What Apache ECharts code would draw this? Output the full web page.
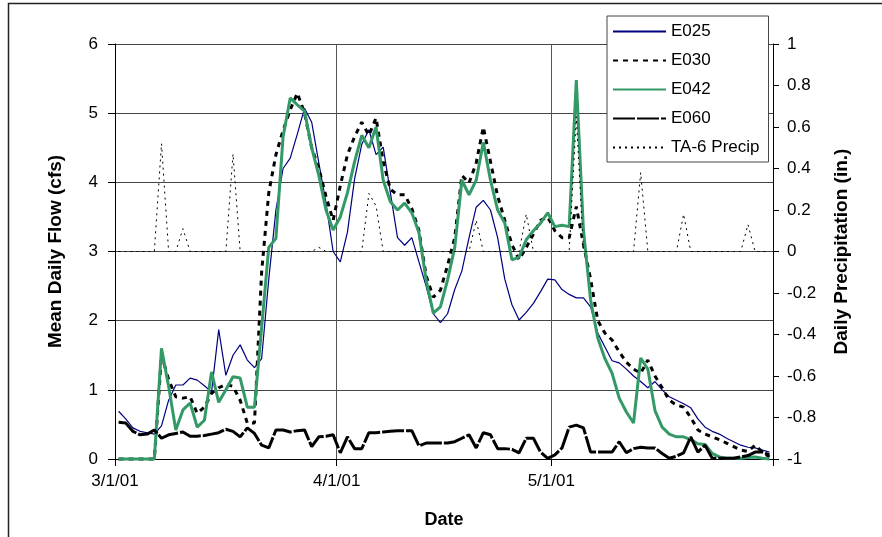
<!DOCTYPE html>
<html><head><meta charset="utf-8">
<script src="https://cdn.jsdelivr.net/npm/echarts@6/dist/echarts.min.js"></script>
<style>html,body{margin:0;padding:0;background:#fff}#c{width:882px;height:537px}</style>
</head><body><div id="c"></div>
<script>
// x axis: days counted from 3/1/01 (daily values, 3/1/01 .. 5/31/01)
const dayCount = 92;
const xTickDays = [0, 31, 61];
const xTickLabels = ['3/1/01', '4/1/01', '5/1/01'];
const seriesNames = ['E025', 'E030', 'E042', 'E060', 'TA-6 Precip'];

const E025 = [0.69,0.58,0.45,0.40,0.38,0.36,0.48,0.85,1.07,1.07,
 1.17,1.14,1.06,0.97,1.87,1.21,1.50,1.65,1.43,1.32,
 1.45,2.60,3.60,4.20,4.35,4.70,5.07,4.87,4.28,3.70,
 3.00,2.85,3.28,4.05,4.55,4.76,4.40,4.51,3.85,3.20,
 3.09,3.20,2.85,2.50,2.10,1.97,2.10,2.45,2.72,3.20,
 3.64,3.74,3.60,3.20,2.60,2.23,2.01,2.12,2.25,2.42,
 2.60,2.59,2.45,2.38,2.33,2.33,2.20,1.82,1.62,1.42,
 1.39,1.30,1.20,1.12,1.03,1.12,1.00,0.90,0.85,0.80,
 0.74,0.58,0.46,0.40,0.36,0.30,0.25,0.20,0.17,0.16,
 0.13,0.10];

const E030 = [0,0,0,0,0,0,1.50,1.15,0.90,0.88,
 0.90,0.66,0.75,0.95,1.03,1.08,1.05,0.85,0.52,0.52,
 2.70,3.85,4.40,4.75,5.05,5.29,5.00,4.50,4.20,3.80,
 3.45,3.95,4.40,4.66,4.87,4.68,4.93,4.30,3.90,3.82,
 3.82,3.62,3.30,2.65,2.34,2.44,2.80,3.20,4.10,3.99,
 4.28,4.80,4.30,3.80,3.45,3.10,2.88,3.06,3.25,3.45,
 3.50,3.30,3.20,3.20,3.65,3.10,2.60,2.00,1.82,1.72,
 1.55,1.40,1.30,1.24,1.43,1.20,1.03,0.85,0.78,0.75,
 0.60,0.42,0.36,0.32,0.28,0.23,0.18,0.13,0.11,0.20,
 0.10,0.03];

const E042 = [0,0,0,0,0,0,1.60,1.05,0.42,0.71,
 0.81,0.46,0.56,1.26,0.82,1.00,1.19,1.17,0.75,0.75,
 1.90,3.06,3.19,4.66,5.22,5.12,5.03,4.50,4.10,3.60,
 3.31,3.50,3.85,4.30,4.68,4.50,4.80,4.03,3.72,3.60,
 3.70,3.56,3.27,2.59,2.11,2.20,2.59,3.06,4.03,3.82,
 4.03,4.58,4.03,3.60,3.41,2.88,2.92,3.17,3.30,3.41,
 3.56,3.36,3.38,3.36,5.48,3.30,2.30,1.75,1.45,1.24,
 0.88,0.68,0.52,1.46,1.30,0.70,0.46,0.36,0.32,0.32,
 0.28,0.22,0.21,0.08,0.03,0.01,0.01,0.01,0.02,0.03,
 0.01,0.00];

const E060 = [0.53,0.52,0.40,0.35,0.36,0.42,0.30,0.35,0.37,0.39,
 0.33,0.33,0.34,0.36,0.38,0.43,0.40,0.32,0.45,0.37,
 0.20,0.16,0.42,0.42,0.39,0.41,0.42,0.18,0.32,0.33,
 0.35,0.09,0.32,0.15,0.15,0.38,0.38,0.39,0.40,0.41,
 0.41,0.41,0.19,0.23,0.23,0.23,0.23,0.25,0.30,0.35,
 0.16,0.38,0.35,0.15,0.15,0.14,0.09,0.30,0.30,0.10,
 0.01,0.06,0.16,0.46,0.49,0.45,0.10,0.10,0.10,0.10,
 0.25,0.09,0.15,0.17,0.16,0.16,0.08,0.01,0.04,0.09,
 0.32,0.10,0.20,0.01,0.01,0.01,0.01,0.03,0.05,0.10,
 0.10,0.06];

const PRECIP = [0,0,0,0,0,0,0.52,0,0,0.11,
 0,0,0,0,0,0,0.47,0,0,0,
 0,0,0,0,0,0,0,0,0.02,0,
 0,0,0,0,0,0.28,0.22,0,0,0,
 0,0,0,0,0,0,0,0,0,0,
 0.15,0,0,0,0,0,0,0.18,0,0,
 0,0,0,0,0.65,0,0,0,0,0,
 0,0,0,0.38,0,0,0,0,0,0.18,
 0,0,0,0,0,0,0,0,0.13,0,
 0,0];

const font = '"Liberation Sans", Arial, sans-serif';
const toXY = arr => arr.map((v, i) => [i + 0.5, v]);

const chart = echarts.init(document.getElementById('c'), null, {renderer: 'canvas'});
chart.setOption({
  animation: false,
  backgroundColor: '#fff',
  graphic: [{type: 'rect', silent: true, shape: {x: 8.5, y: 3.5, width: 900, height: 600},
    style: {fill: 'none', stroke: '#222', lineWidth: 1.5}}],
  grid: {left: 115, right: 109, top: 44, bottom: 78},
  legend: {
    orient: 'vertical', left: 607, top: 16, padding: [7, 9, 6, 5],
    itemWidth: 53, itemHeight: 12, itemGap: 12,
    backgroundColor: '#fff', borderColor: '#444', borderWidth: 1,
    itemStyle: {opacity: 0},
    textStyle: {fontFamily: font, fontSize: 17, color: '#000'},
    data: seriesNames
  },
  xAxis: {
    type: 'value', min: 0, max: dayCount,
    name: 'Date', nameLocation: 'middle', nameGap: 52,
    nameTextStyle: {fontFamily: font, fontWeight: 'bold', fontSize: 18, color: '#000'},
    axisLine: {lineStyle: {color: '#000', width: 1}},
    axisTick: {customValues: xTickDays.concat([dayCount]), length: 7, lineStyle: {color: '#000'}},
    axisLabel: {customValues: xTickDays, formatter: v => xTickLabels[xTickDays.indexOf(v)] || '',
      fontFamily: font, fontSize: 17, color: '#000', margin: 14},
    splitLine: {show: true, lineStyle: {color: '#555', width: 1}}
  },
  yAxis: [{
    type: 'value', min: 0, max: 6, interval: 1,
    name: 'Mean Daily Flow (cfs)', nameLocation: 'middle', nameGap: 50, nameRotate: 90,
    nameTextStyle: {fontFamily: font, fontWeight: 'bold', fontSize: 19, color: '#000'},
    axisLine: {show: true, lineStyle: {color: '#000', width: 1}},
    axisTick: {show: true, length: 7, lineStyle: {color: '#000'}},
    axisLabel: {fontFamily: font, fontSize: 17, color: '#000', margin: 17},
    splitLine: {show: true, lineStyle: {color: '#444', width: 1}}
  }, {
    type: 'value', min: -1, max: 1, interval: 0.2, position: 'right',
    name: 'Daily Precipitation (in.)', nameLocation: 'middle', nameGap: 59, nameRotate: 90,
    nameTextStyle: {fontFamily: font, fontWeight: 'bold', fontSize: 19, color: '#000'},
    axisLine: {show: true, lineStyle: {color: '#000', width: 1}},
    axisTick: {show: true, length: 6, lineStyle: {color: '#000'}},
    axisLabel: {fontFamily: font, fontSize: 17, color: '#000', margin: 14,
      formatter: v => String(Math.round(v * 10) / 10)},
    splitLine: {show: false}
  }],
  series: [
    {name: 'E025', type: 'line', data: toXY(E025), symbol: 'none', clip: false,
      lineStyle: {color: '#000080', width: 1.2}, itemStyle: {color: '#000080'}},
    {name: 'E030', type: 'line', data: toXY(E030), symbol: 'none', clip: false,
      lineStyle: {color: '#000', width: 3, type: [5, 5]}, itemStyle: {color: '#000'}},
    {name: 'E042', type: 'line', data: toXY(E042), symbol: 'none', clip: false,
      lineStyle: {color: '#339966', width: 3}, itemStyle: {color: '#339966'}},
    {name: 'E060', type: 'line', data: toXY(E060), symbol: 'none', clip: false,
      lineStyle: {color: '#000', width: 3, type: [22, 2]}, itemStyle: {color: '#000'}},
    {name: 'TA-6 Precip', type: 'line', yAxisIndex: 1, data: toXY(PRECIP), symbol: 'none', clip: false,
      lineStyle: {color: '#000', width: 1, type: [2, 4]}, itemStyle: {color: '#000'}}
  ]
});
</script></body></html>
